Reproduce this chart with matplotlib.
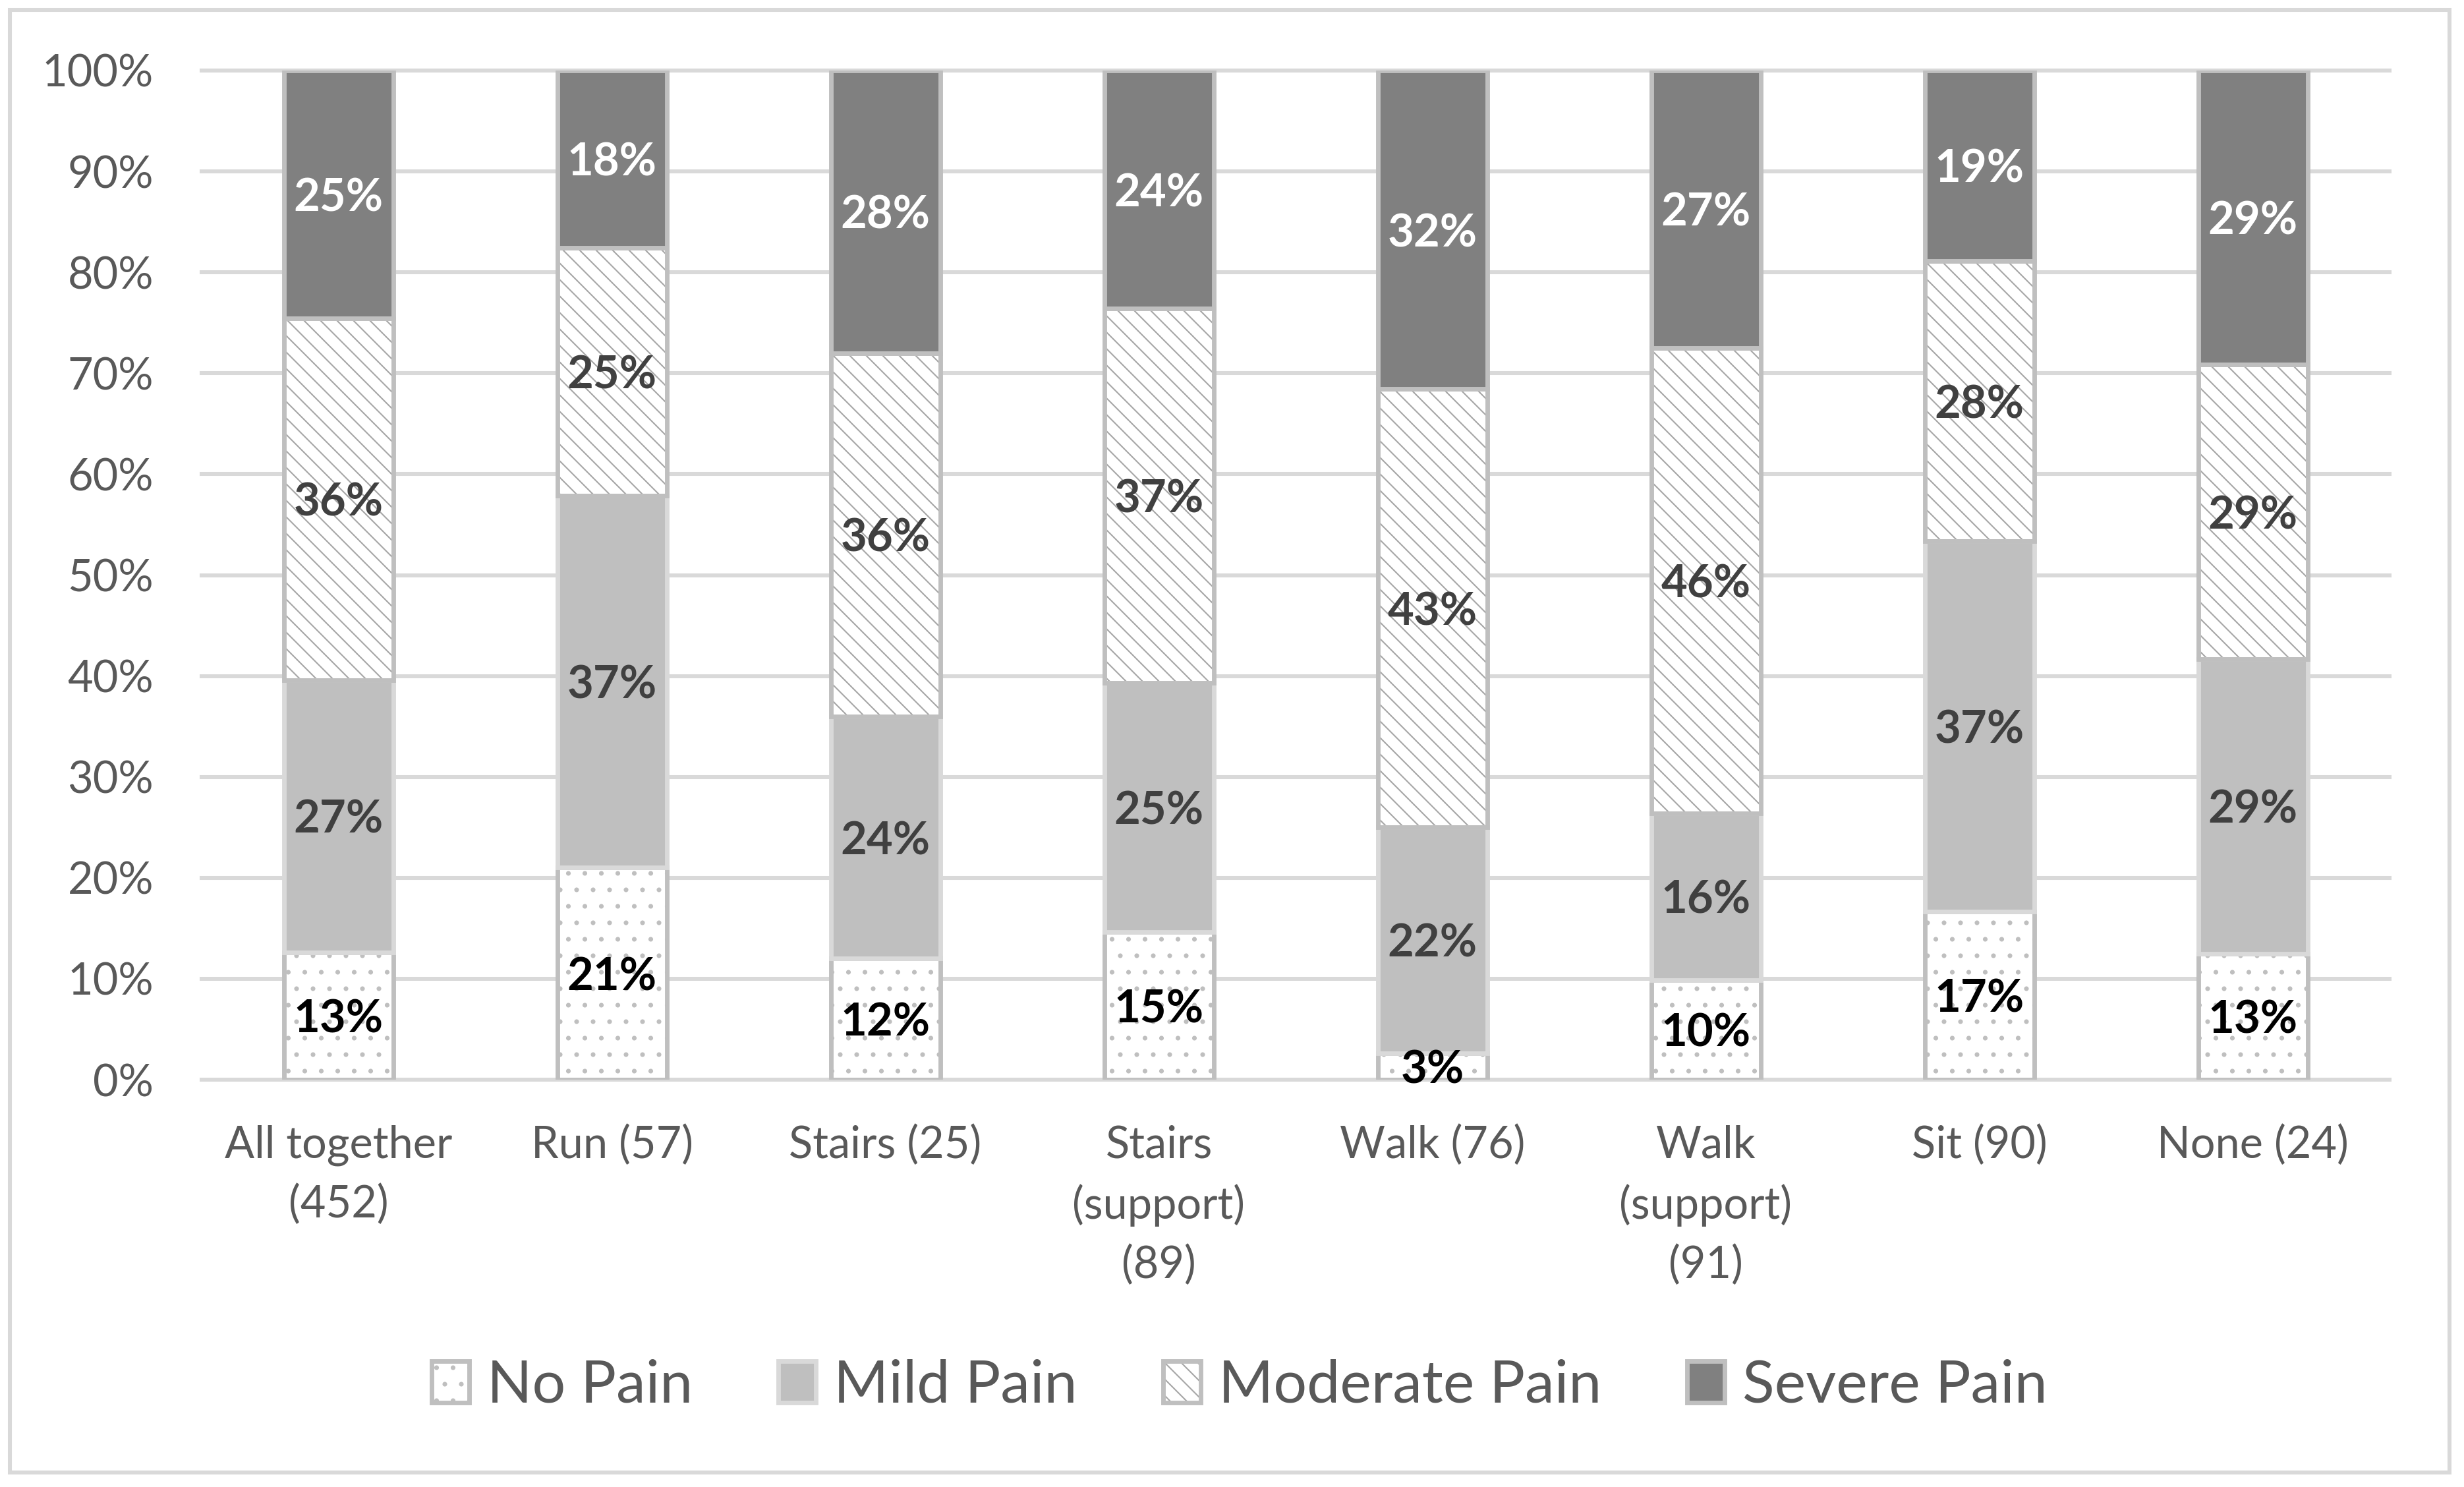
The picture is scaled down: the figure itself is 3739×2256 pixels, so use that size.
import matplotlib
matplotlib.use("Agg")
import matplotlib.pyplot as plt
import numpy as np
from matplotlib.patches import Rectangle
from matplotlib.legend_handler import HandlerTuple

# ---- data (percent of respondents) ----
categories = ["All together\n(452)", "Run (57)", "Stairs (25)", "Stairs\n(support)\n(89)",
              "Walk (76)", "Walk\n(support)\n(91)", "Sit (90)", "None (24)"]
series_names = ["No Pain", "Mild Pain", "Moderate Pain", "Severe Pain"]
no_pain = [12.61, 21.05, 12.00, 14.61, 2.63, 9.89, 16.67, 12.50]
mild_pain = [26.99, 36.84, 24.00, 24.72, 22.37, 16.48, 36.67, 29.17]
moderate_pain = [35.84, 24.56, 36.00, 37.08, 43.42, 46.15, 27.78, 29.17]
severe_pain = [24.56, 17.54, 28.00, 23.60, 31.58, 27.47, 18.89, 29.17]
y_ticks = list(range(0, 101, 10))

plt.rcParams['font.family'] = ['Lato', 'DejaVu Sans']
plt.rcParams['hatch.linewidth'] = 1.0

W, H, DPI = 3739, 2256, 150
fig = plt.figure(figsize=(W / DPI, H / DPI), dpi=DPI)
fig.patch.set_facecolor('white')
ax = fig.add_axes([306 / W, 1 - 1638 / H, (3626 - 306) / W, (1638 - 107) / H])

styles = [
    # face, hatch, hatch colour, outline colour, label colour
    ('white', '.', '#BFBFBF', '#BFBFBF', '#000000'),
    ('#BFBFBF', '', '#BFBFBF', '#D9D9D9', '#404040'),
    ('white', '\\\\', '#A6A6A6', '#BFBFBF', '#404040'),
    ('#808080', '', '#808080', '#BFBFBF', '#FFFFFF'),
]
data = [no_pain, mild_pain, moderate_pain, severe_pain]

x = np.arange(len(categories))
width = 0.40
bottom = np.zeros(len(categories))
handles = []
for vals, (fc, hatch, hc, ec, tc) in zip(data, styles):
    vals = np.asarray(vals, dtype=float)
    b1 = ax.bar(x, vals, width, bottom=bottom, color=fc, hatch=hatch if hatch else None,
                edgecolor=hc, linewidth=0, zorder=2)
    b2 = ax.bar(x, vals, width, bottom=bottom, facecolor='none', edgecolor=ec,
                linewidth=3.3, zorder=3)
    for xi, v, b in zip(x, vals, bottom):
        ax.text(xi, b + v / 2, f"{int(np.floor(v + 0.5))}%", ha='center',
                va='center_baseline', fontsize=33, fontweight='bold', color=tc, zorder=5)
    handles.append((b1[0], b2[0]))
    bottom += vals

# gridlines
for t in y_ticks:
    ax.axhline(t, color='#D9D9D9', lw=2.9, zorder=0, clip_on=False)

ax.set_xlim(-0.5, len(categories) - 0.5)
ax.set_ylim(0, 100)
ax.set_yticks(y_ticks)
ax.set_yticklabels([f"{t}%" for t in y_ticks])
ax.set_xticks(x)
ax.set_xticklabels(categories, linespacing=1.53)
ax.tick_params(axis='y', length=0, pad=35, labelsize=32, labelcolor='#595959')
ax.tick_params(axis='x', length=0, pad=33, labelsize=32, labelcolor='#595959')
for s in ax.spines.values():
    s.set_visible(False)
ax.set_facecolor('none')

fig.legend(handles, series_names, loc='center', bbox_to_anchor=(0.503, 0.068), ncol=4,
           frameon=False, fontsize=43, labelcolor='#595959', handlelength=0.64,
           handleheight=0.7, handletextpad=0.3, columnspacing=1.45,
           handler_map={tuple: HandlerTuple(ndivide=1)})

fig.patches.append(Rectangle((14.5 / W, 1 - 2234 / H), (3717 - 14.5) / W, (2234 - 15) / H,
                             transform=fig.transFigure, fill=False, edgecolor='#D9D9D9',
                             linewidth=2.9, zorder=10))

fig.savefig('out.png', dpi=DPI, facecolor='white')
